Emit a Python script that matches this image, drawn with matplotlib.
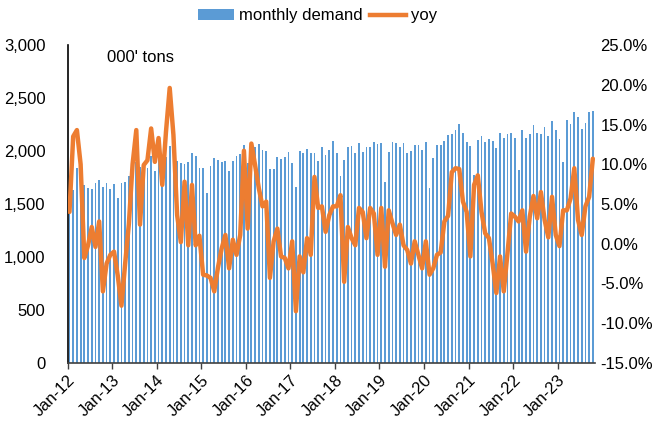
import numpy as np
import matplotlib
matplotlib.use("Agg")
import matplotlib.pyplot as plt
from matplotlib.ticker import FuncFormatter, MultipleLocator
from matplotlib.patches import Patch
from matplotlib.lines import Line2D

plt.rcParams['font.family'] = ['Liberation Sans', 'DejaVu Sans']

# monthly demand, 000' tons, Jan-12 .. Oct-23
demand = [
    1450, 1632, 1837, 1700, 1679, 1654, 1642, 1695, 1723, 1657, 1701, 1642,
    1689, 1553, 1695, 1704, 1767, 1868, 1900, 1850, 1884, 1843, 1953, 1811,
    1947, 1800, 1947, 2050, 1915, 1906, 1884, 1874, 1893, 1978, 1953, 1836,
    1836, 1607, 1859, 1931, 1915, 1893, 1906, 1811, 1906, 1956, 1972, 2060,
    1884, 2080, 2041, 2066, 2009, 2003, 1827, 1827, 1946, 1921, 1940, 1994,
    1884, 1657, 2003, 1984, 2022, 1978, 1978, 1909, 2041, 1962, 2009, 2097,
    1978, 1764, 1915, 2041, 2050, 1978, 2072, 1987, 2041, 2038, 2088, 2063,
    2072, 1711, 1993, 2081, 2072, 2035, 2072, 1978, 2000, 2057, 2057, 2006,
    2085, 1648, 1931, 2057, 2057, 2094, 2151, 2164, 2198, 2252, 2167, 2088,
    2050, 1770, 2104, 2141, 2082, 2113, 2097, 2025, 2167, 2126, 2157, 2167,
    2120, 1821, 2198, 2120, 2157, 2245, 2173, 2160, 2229, 2141, 2286, 2198,
    2116, 1899, 2292, 2252, 2365, 2318, 2204, 2267, 2365, 2374,
]

# year-on-year change, %
yoy = [
    4.0, 13.5, 14.3, 10.0, -1.8, -0.2, 2.1, -0.4, 2.8, -6.0, -2.5, -1.4,
    -1.0, -4.0, -7.8, -2.5, 2.5, 10.0, 14.3, 2.4, 9.9, 10.5, 14.5, 10.3,
    13.3, 7.4, 14.1, 19.6, 13.7, 3.6, 0.2, 7.8, -0.2, 7.4, -0.2, 1.0,
    -3.9, -4.0, -4.3, -6.0, -3.0, -0.6, 1.1, -3.1, 0.5, -1.4, 1.1, 11.7,
    1.9, 12.6, 9.9, 7.0, 4.7, 5.3, -4.3, 0.3, 1.9, -1.6, -1.8, -3.1,
    0.3, -8.5, -1.6, -3.6, 0.7, -1.4, 8.4, 4.5, 4.7, 1.5, 3.6, 4.7,
    4.7, 6.1, -4.8, 2.1, 0.7, -0.2, 4.5, 4.0, 0.7, 4.5, 3.8, -1.4,
    4.5, -2.9, 4.2, 2.6, 1.1, 2.4, -0.2, -0.8, -2.5, 0.3, -1.4, -3.1,
    0.3, -3.9, -3.1, -1.4, -1.1, 2.8, 3.5, 9.0, 9.5, 9.4, 5.3, 4.0,
    -1.6, 7.4, 8.6, 4.0, 1.3, 0.7, -2.5, -6.2, -1.6, -6.0, -1.2, 3.8,
    3.4, 2.8, 4.2, -1.0, 3.4, 6.0, 3.2, 6.5, 3.0, 0.8, 5.9, 1.1,
    -0.3, 4.2, 4.2, 5.7, 9.5, 3.0, 1.1, 4.7, 5.9, 10.7,
]

year_labels = ['Jan-12', 'Jan-13', 'Jan-14', 'Jan-15', 'Jan-16', 'Jan-17',
               'Jan-18', 'Jan-19', 'Jan-20', 'Jan-21', 'Jan-22', 'Jan-23']

BLUE = '#5B9BD5'
ORANGE = '#ED7D31'
FS = 12

n = len(demand)
x = np.arange(n)

fig = plt.figure(figsize=(6.63, 4.21), dpi=100)
ax = fig.add_axes([0.102, 0.138, 0.795, 0.755])
ax2 = ax.twinx()

ax.bar(x, demand, width=0.48, color=BLUE, linewidth=0, zorder=1)
ax2.plot(x, yoy, color=ORANGE, linewidth=3.2, solid_joinstyle='round',
         solid_capstyle='round', zorder=3)

ax.set_xlim(-0.5, n - 0.5)
ax.set_ylim(0, 3000)
ax.yaxis.set_major_locator(MultipleLocator(500))
ax.yaxis.set_major_formatter(FuncFormatter(lambda v, p: f'{v:,.0f}'))
ax2.set_ylim(-15, 25)
ax2.yaxis.set_major_locator(MultipleLocator(5))
ax2.yaxis.set_major_formatter(FuncFormatter(lambda v, p: f'{v:.1f}%'))

ticks = [i * 12 - 0.5 for i in range(len(year_labels))]
ax.set_xticks(ticks)
ax.set_xticklabels(year_labels, rotation=45, ha='right', rotation_mode='anchor',
                   fontsize=FS)
ax.tick_params(axis='x', length=4, width=1, color='#404040', pad=3)
ax.tick_params(axis='y', length=0, labelsize=FS, pad=16)
ax2.tick_params(axis='y', length=0, labelsize=FS, pad=4)

for a in (ax, ax2):
    a.spines['top'].set_visible(False)
    a.spines['right'].set_visible(False)
ax2.spines['left'].set_visible(False)
ax2.spines['bottom'].set_visible(False)
ax.spines['left'].set_color('black')
ax.spines['left'].set_linewidth(1.2)
ax.spines['bottom'].set_color('#404040')
ax.spines['bottom'].set_linewidth(1.2)

ax.text(0.075, 0.962, "000' tons", transform=ax.transAxes, fontsize=FS,
        ha='left', va='center')

handles = [Patch(facecolor=BLUE, edgecolor='none'),
           Line2D([0], [0], color=ORANGE, linewidth=3.2)]
fig.legend(handles, ['monthly demand', 'yoy'], loc='center',
           bbox_to_anchor=(0.479, 0.962), ncol=2, frameon=False,
           fontsize=FS, handlelength=2.2, handleheight=0.6,
           handletextpad=0.3, columnspacing=0.4)

fig.savefig('out.png', dpi=100)
